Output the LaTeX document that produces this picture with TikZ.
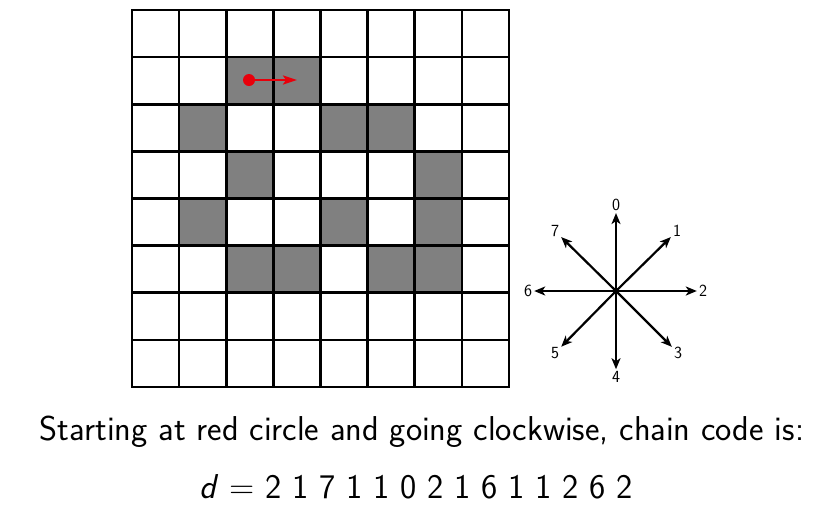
\documentclass[tikz,border=0pt]{standalone}
\usepackage{tikz}
\usetikzlibrary{arrows.meta, positioning}
\definecolor{cellGray}{HTML}{808080}
\definecolor{startRed}{HTML}{E8000B}

\begin{document}
\begin{tikzpicture}[
    x=1pt, y=-1pt,
    gridline/.style={draw=black, line width=2.6pt, line cap=rect},
    cellfill/.style={fill=cellGray},
    startdot/.style={circle, fill=startRed, inner sep=0pt, minimum size=12pt},
    redarrow/.style={-{Stealth[length=14pt, width=9pt, inset=3pt]}, draw=startRed, line width=2.2pt},
    dirarrow/.style={-{Stealth[length=11pt, width=9pt, inset=3pt]}, draw=black, line width=2.2pt},
    dirlabel/.style={font=\sffamily\fontsize{17}{20}\selectfont, inner sep=2pt},
    caption/.style={font=\sffamily\fontsize{34.5}{40}\selectfont, inner sep=0pt}
]

% Page
\useasboundingbox (0,0) rectangle (826,512);

% Shaded cells (row/column)
\foreach \r/\c in {1/2,1/3,2/1,2/4,2/5,3/2,3/6,4/1,4/4,4/6,5/2,5/3,5/5,5/6} {
    \fill[cellfill] (132+47.125*\c,10+47.125*\r) rectangle ++(47.125,47.125);
}

% 8x8 grid
\foreach \i in {0,...,8} {
    \draw[gridline] (132+47.125*\i,10) -- (132+47.125*\i,387);
    \draw[gridline] (132,10+47.125*\i) -- (509,10+47.125*\i);
}

% Start point and first move
\node[startdot] (start) at (249,80) {};
\coordinate (firstmove) at (297,80);
\draw[redarrow] (start) -- (firstmove);

% Direction compass
\coordinate (hub) at (616,291);
\node[dirlabel] (d0) at (616,205) {0};
\node[dirlabel] (d1) at (677,231) {1};
\node[dirlabel] (d2) at (703,291) {2};
\node[dirlabel] (d3) at (678,353) {3};
\node[dirlabel] (d4) at (616,377) {4};
\node[dirlabel] (d5) at (555,353) {5};
\node[dirlabel] (d6) at (528,291) {6};
\node[dirlabel] (d7) at (555,231) {7};
\foreach \k in {0,...,7} {
    \draw[dirarrow] (hub) -- (d\k);
}

% Caption
\node[caption] (claim) at (422,432) {Starting at red circle and going clockwise, chain code is:};
\node[caption] (code) at (416,487) {\textit{d} = 2 1 7 1 1 0 2 1 6 1 1 2 6 2};

\end{tikzpicture}
\end{document}
